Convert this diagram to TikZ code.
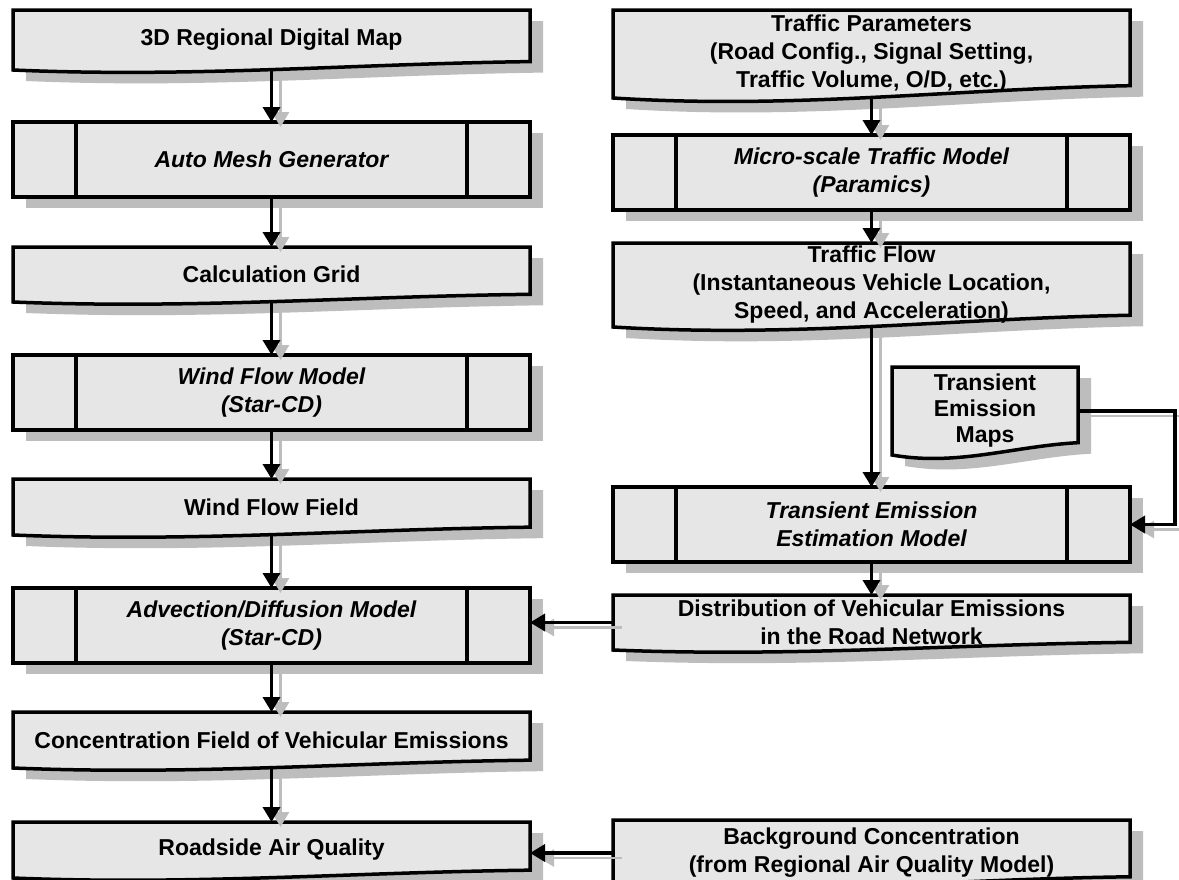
\documentclass[tikz,border=0pt]{standalone}
\usepackage{fontspec}
\setmainfont{Liberation Sans}
\usepackage{tikz}
\usetikzlibrary{arrows.meta,calc,backgrounds}

\definecolor{boxfill}{HTML}{E6E6E6}
\definecolor{shadowgray}{HTML}{BDBDBD}

% document shape: straight top, wavy bottom
\newcommand\wavy[1]{let \p1=(#1.south west),\p2=(#1.north east) in
  (\x1,\y2) -- (\x2,\y2) -- (\x2,{\y1+0.14*(\y2-\y1)})
  .. controls ({\x1+0.65*(\x2-\x1)},{\y1+0.1*(\y2-\y1)})
  and ({\x1+0.35*(\x2-\x1)},{\y1-0.13*(\y2-\y1)}) .. (\x1,\y1) -- cycle}
% predefined process: box with two inner bars
\newcommand\procbox[1]{(#1.north west) rectangle (#1.south east)
  ([xshift=63pt]#1.north west) -- ([xshift=63pt]#1.south west)
  ([xshift=-63pt]#1.north east) -- ([xshift=-63pt]#1.south east)}

\begin{document}
\begin{tikzpicture}[x=1pt,y=-1pt,
  block/.style 2 args={minimum width=#1pt,minimum height=#2pt,inner sep=0pt,
    outer sep=0pt,align=center,font=\fontsize{23}{28}\selectfont\bfseries},
  model/.style={font=\fontsize{23}{28}\selectfont\bfseries\itshape},
  outline/.style={draw=black,line width=3.5pt,fill=boxfill},
  arrow/.style={-{Triangle[length=15pt,width=17pt]},line width=3.5pt,
    preaction={draw=shadowgray,line width=2.5pt,transform canvas={shift={(9pt,-5pt)}}}},
]
  \useasboundingbox (0,0) rectangle (1179,879);

  % left column
  \node[block={517}{60}] (map) at (271.5,40) {3D Regional Digital Map};
  \node[block={517}{75},model] (mesh) at (271.5,159.5) {Auto Mesh Generator};
  \node[block={517}{55}] (grid) at (271.5,274.5) {Calculation Grid};
  \node[block={517}{75},model] (windmodel) at (271.5,392.5) {Wind Flow Model\\(Star-CD)};
  \node[block={517}{56}] (windfield) at (271.5,507) {Wind Flow Field};
  \node[block={517}{75},model] (advec) at (271.5,625.5) {Advection/Diffusion Model\\(Star-CD)};
  \node[block={517}{56}] (conc) at (271.5,740) {Concentration Field of Vehicular Emissions};
  \node[block={517}{56}] (roadside) at (271.5,850) {Roadside Air Quality};

  % right column
  \node[block={517}{88}] (params) at (871.5,54)
    {Traffic Parameters\\(Road Config., Signal Setting,\\Traffic Volume, O/D, etc.)};
  \node[block={517}{75},model] (micro) at (871.5,172.5) {Micro-scale Traffic Model\\(Paramics)};
  \node[block={517}{84}] (flow) at (871.5,285)
    {Traffic Flow\\(Instantaneous Vehicle Location,\\Speed, and Acceleration)};
  \node[block={186}{88},font=\fontsize{23}{26}\selectfont\bfseries] (maps) at (985,411)
    {Transient\\Emission\\Maps};
  \node[block={517}{75},model] (estim) at (871.5,524.5) {Transient Emission\\Estimation Model};
  \node[block={517}{55}] (dist) at (871.5,622.5)
    {Distribution of Vehicular Emissions\\in the Road Network};
  \node[block={517}{66}] (bg) at (871.5,853)
    {Background Concentration\\(from Regional Air Quality Model)};

  \begin{scope}[on background layer]
    \fill[white] (0,0) rectangle (1179,879);
    \begin{scope}[transform canvas={shift={(13pt,-11pt)}}]
      \foreach \b in {map,grid,windfield,conc,roadside,params,flow,maps,dist,bg}
        \fill[shadowgray] \wavy{\b};
      \foreach \b in {mesh,windmodel,advec,micro,estim}
        \fill[shadowgray] (\b.north west) rectangle (\b.south east);
    \end{scope}
    \foreach \b in {map,grid,windfield,conc,roadside,params,flow,maps,dist,bg}
      \draw[outline] \wavy{\b};
    \foreach \b in {mesh,windmodel,advec,micro,estim}
      \draw[outline] \procbox{\b};
  \end{scope}

  \draw[arrow] (map.south) -- (mesh.north);
  \draw[arrow] (mesh.south) -- (grid.north);
  \draw[arrow] (grid.south) -- (windmodel.north);
  \draw[arrow] (windmodel.south) -- (windfield.north);
  \draw[arrow] (windfield.south) -- (advec.north);
  \draw[arrow] (advec.south) -- (conc.north);
  \draw[arrow] (conc.south) -- (roadside.north);

  \draw[arrow] (params.south) -- (micro.north);
  \draw[arrow] (micro.south) -- (flow.north);
  \draw[arrow] (flow.south) -- (estim.north);
  \draw[arrow] (estim.south) -- (dist.north);
  \draw[arrow] (maps.east) -- ++(97,0) |- (estim.east);
  \draw[arrow] (dist.west) -- (dist.west -| advec.east);
  \draw[arrow] (bg.west) -- (bg.west -| roadside.east);
\end{tikzpicture}
\end{document}
